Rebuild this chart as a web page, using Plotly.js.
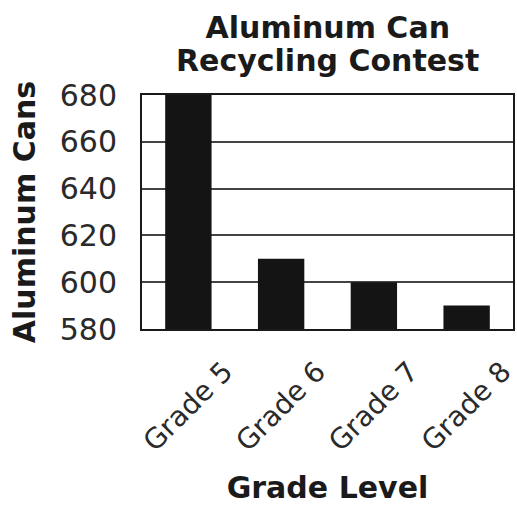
<!DOCTYPE html>
<html>
<head>
<meta charset="utf-8">
<script src="https://cdn.plot.ly/plotly-3.0.1.min.js"></script>
<style>html,body{margin:0;padding:0;background:#fff;}#chart{width:517px;height:508px;}</style>
</head>
<body>
<div id="chart"></div>
<script>
const titleLines = ["Aluminum Can", "Recycling Contest"];
const categories = ["Grade 5", "Grade 6", "Grade 7", "Grade 8"];
const cans = [680, 610, 600, 590];
const baseline = 580;
const yTicks = [580, 600, 620, 640, 660, 680];

const trace = {
  type: "bar",
  x: categories,
  y: cans.map(v => v - baseline),
  base: baseline,
  marker: {color: "#141414"},
  width: 0.5,
  hoverinfo: "x+y"
};

const layout = {
  width: 517, height: 508,
  margin: {l: 142, r: 4, t: 95, b: 179},
  paper_bgcolor: "#fff", plot_bgcolor: "#fff",
  font: {family: "DejaVu Sans, Verdana, sans-serif", color: "#222"},
  title: {
    text: "<b>" + titleLines[0] + "</b>",
    font: {size: 30, color: "#1a1a1a"},
    x: 0.634, xanchor: "center",
    yref: "container", y: 1 - 27 / 508, yanchor: "middle"
  },
  annotations: [{
    text: "<b>" + titleLines[1] + "</b>",
    font: {size: 30, color: "#1a1a1a"},
    xref: "paper", yref: "paper",
    x: 0.5, xanchor: "center",
    y: 1 + (95 - 60) / 234, yanchor: "middle",
    showarrow: false
  }],
  xaxis: {
    type: "category",
    range: [-0.5, 3.5],
    tickangle: -45,
    tickfont: {size: 28, color: "#2a2a2a"},
    ticklabelshift: 36, ticklabelstandoff: 13,
    showline: true, linecolor: "#1a1a1a", linewidth: 2, mirror: true,
    ticks: "", showgrid: false,
    title: {text: "<b>Grade Level</b>", font: {size: 30, color: "#1a1a1a"}, standoff: 20},
    automargin: false
  },
  yaxis: {
    range: [580, 680],
    tickvals: yTicks,
    ticktext: yTicks.map(String),
    tickfont: {size: 30, color: "#2a2a2a"},
    showline: true, linecolor: "#1a1a1a", linewidth: 2, mirror: true,
    showgrid: true, gridcolor: "#444", gridwidth: 2,
    ticks: "", ticklabelstandoff: 17,
    zeroline: false,
    title: {text: "<b>Aluminum Cans</b>", font: {size: 30, color: "#1a1a1a"}, standoff: 15},
    automargin: false
  },
  showlegend: false
};

Plotly.newPlot("chart", [trace], layout, {displayModeBar: false, staticPlot: true});
</script>
</body>
</html>
